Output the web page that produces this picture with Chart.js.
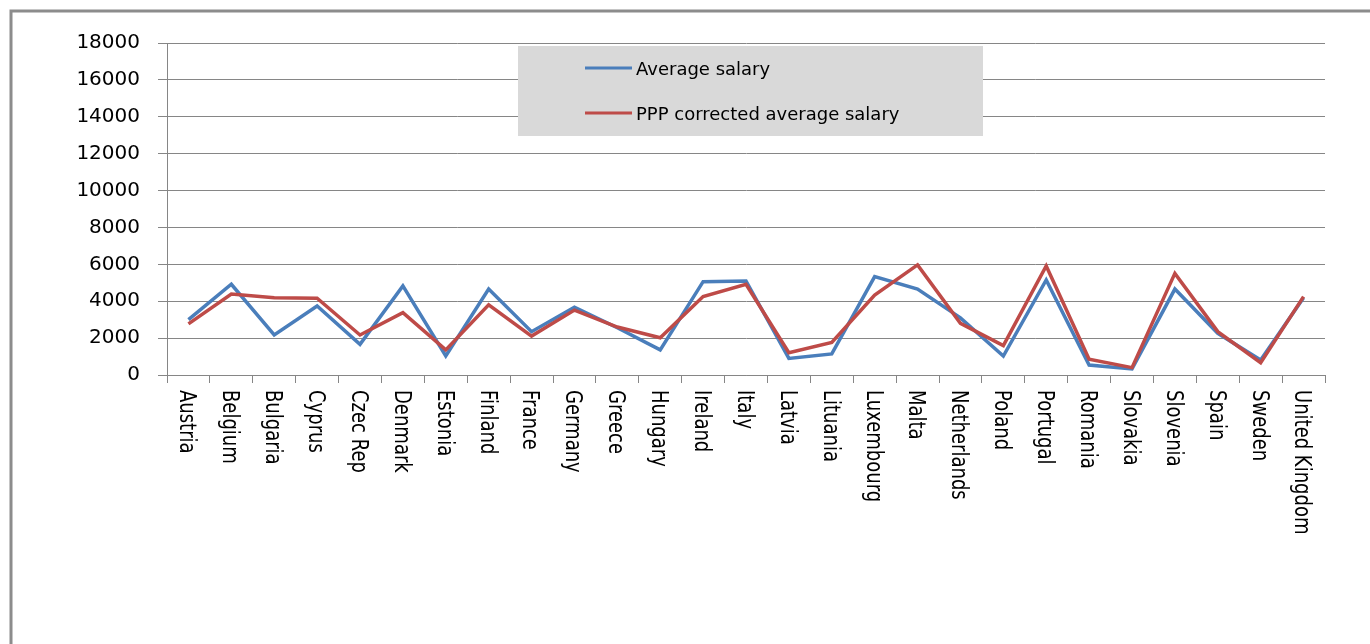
<!DOCTYPE html>
<html>
<head>
<meta charset="utf-8">
<script src="https://cdn.jsdelivr.net/npm/chart.js@4"></script>
<style>
  body { margin: 0; background: #fff; }
  #wrap { width: 1370px; height: 644px; position: relative; }
</style>
</head>
<body>
<div id="wrap"><canvas id="myChart"></canvas></div>
<script>
// values
const countries = ['Austria', 'Belgium', 'Bulgaria', 'Cyprus', 'Czec Rep', 'Denmark', 'Estonia', 'Finland', 'France',
  'Germany', 'Greece', 'Hungary', 'Ireland', 'Italy', 'Latvia', 'Lituania', 'Luxembourg', 'Malta', 'Netherlands',
  'Poland', 'Portugal', 'Romania', 'Slovakia', 'Slovenia', 'Spain', 'Sweden', 'United Kingdom'];
const avgSalary = [3000, 4920, 2170, 3740, 1660, 4830, 1030, 4660, 2350, 3670, 2560, 1360, 5060, 5100, 900, 1140,
  5330, 4660, 3100, 1030, 5150, 540, 330, 4660, 2260, 810, 4190];
const pppSalary = [2770, 4390, 4190, 4160, 2170, 3380, 1360, 3800, 2110, 3520, 2600, 2020, 4250, 4920, 1210, 1770,
  4340, 5970, 2800, 1590, 5910, 850, 400, 5510, 2350, 670, 4250];
const seriesNames = ['Average salary', 'PPP corrected average salary'];
const seriesColors = ['#4a7ebb', '#be4b48'];

// white background + grey frame (only top and left are visible in the window)
const framePlugin = {
  id: 'frame',
  beforeDraw(chart) {
    const c = chart.ctx;
    c.save();
    c.fillStyle = '#fff';
    c.fillRect(0, 0, chart.width, chart.height);
    c.strokeStyle = '#8c8c8c';
    c.lineWidth = 3;
    c.beginPath();
    c.moveTo(11, chart.height);
    c.lineTo(11, 11);
    c.lineTo(chart.width, 11);
    c.stroke();
    c.restore();
  }
};

// x labels read top to bottom, so draw them by hand
const xLabelPlugin = {
  id: 'xlabels',
  afterDraw(chart) {
    const c = chart.ctx;
    const xs = chart.scales.x;
    c.save();
    c.fillStyle = '#000';
    c.font = '18px "DejaVu Sans"';
    c.textAlign = 'left';
    c.textBaseline = 'alphabetic';
    chart.data.labels.forEach(function(lab, i) {
      const x = xs.getPixelForTick(i);
      c.save();
      c.translate(x, 390);
      c.rotate(Math.PI / 2);
      c.scale(1, 1.25);
      c.fillText(lab, 0, 6.5);
      c.restore();
    });
    c.restore();
  }
};

// grey legend box sitting inside the plot
const legendPlugin = {
  id: 'boxlegend',
  afterDatasetsDraw(chart) {
    const c = chart.ctx;
    c.save();
    c.fillStyle = '#d9d9d9';
    c.fillRect(518, 46, 465, 90);
    c.font = '18px "DejaVu Sans"';
    c.textBaseline = 'alphabetic';
    c.textAlign = 'left';
    const ys = [68, 113];
    chart.data.datasets.forEach(function(ds, i) {
      c.strokeStyle = ds.borderColor;
      c.lineWidth = 3;
      c.beginPath();
      c.moveTo(585, ys[i]);
      c.lineTo(632, ys[i]);
      c.stroke();
      c.fillStyle = '#000';
      c.fillText(ds.label, 636, ys[i] + 6.5);
    });
    c.restore();
  }
};

const ctx = document.getElementById('myChart');

new Chart(ctx, {
  type: 'line',
  data: {
    labels: countries,
    datasets: [{
      label: seriesNames[0],
      data: avgSalary,
      borderColor: seriesColors[0],
      backgroundColor: seriesColors[0],
      borderWidth: 3.5,
      pointRadius: 0,
      tension: 0,
      order: 1
    }, {
      label: seriesNames[1],
      data: pppSalary,
      borderColor: seriesColors[1],
      backgroundColor: seriesColors[1],
      borderWidth: 3.5,
      pointRadius: 0,
      tension: 0,
      order: 0
    }]
  },
  options: {
    responsive: true,
    maintainAspectRatio: false,
    animation: false,
    layout: { padding: { left: 0, top: 43, right: 45, bottom: 0 } },
    plugins: {
      legend: { display: false },
      tooltip: { enabled: false }
    },
    scales: {
      x: {
        offset: true,
        grid: { offset: true, drawOnChartArea: false, color: '#868686', tickLength: 8 },
        border: { color: '#868686' },
        ticks: { display: false },
        afterFit: function(s) { s.height = 644 - 375; }
      },
      y: {
        min: 0,
        max: 18000,
        ticks: {
          stepSize: 2000,
          color: '#000',
          padding: 18,
          font: { family: 'DejaVu Sans', size: 20 },
          callback: function(v) { return String(v); }  // no thousands separator
        },
        grid: { color: '#868686', tickLength: 9 },
        border: { color: '#868686' },
        afterFit: function(s) { s.width = 167; }
      }
    }
  },
  plugins: [framePlugin, legendPlugin, xLabelPlugin]
});
</script>
</body>
</html>
